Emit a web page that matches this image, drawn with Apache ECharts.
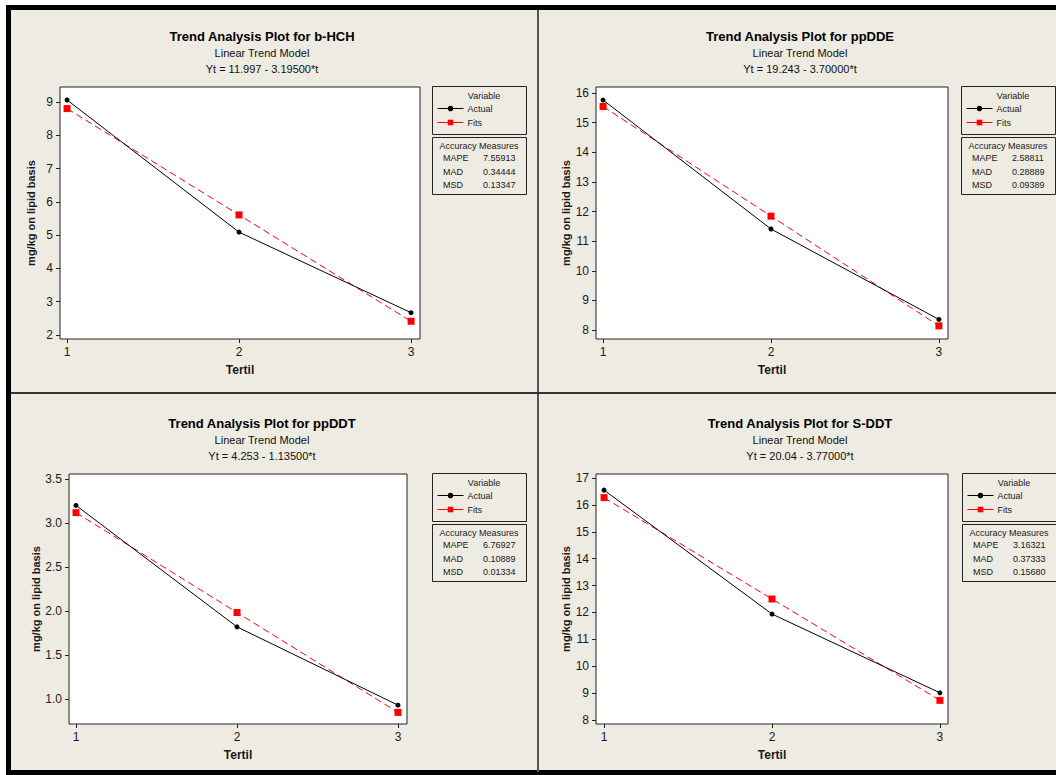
<!DOCTYPE html>
<html>
<head>
<meta charset="utf-8">
<script src="https://cdn.jsdelivr.net/npm/echarts@6/dist/echarts.min.js"></script>
<style>
html,body{margin:0;padding:0;background:#ffffff;}
#main{width:1056px;height:775px;}
</style>
</head>
<body>
<div id="main"></div>
<script>
// ---- data ----
const tertil = [1, 2, 3];
const bhchActual = [9.06, 5.09, 2.67];
const bhchFits = [8.802, 5.607, 2.412];
const ppddeActual = [15.76, 11.41, 8.36];
const ppddeFits = [15.543, 11.843, 8.143];
const ppddtActual = [3.20, 1.82, 0.93];
const ppddtFits = [3.118, 1.983, 0.848];
const sddtActual = [16.55, 11.94, 9.01];
const sddtFits = [16.27, 12.50, 8.73];

const bhchTicks = [2, 3, 4, 5, 6, 7, 8, 9];
const ppddeTicks = [8, 9, 10, 11, 12, 13, 14, 15, 16];
const ppddtTicks = [1.0, 1.5, 2.0, 2.5, 3.0, 3.5];
const sddtTicks = [8, 9, 10, 11, 12, 13, 14, 15, 16, 17];

const titles = ['Trend Analysis Plot for b-HCH', 'Trend Analysis Plot for ppDDE', 'Trend Analysis Plot for ppDDT', 'Trend Analysis Plot for S-DDT'];
const equations = ['Yt = 11.997 - 3.19500*t', 'Yt = 19.243 - 3.70000*t', 'Yt = 4.253 - 1.13500*t', 'Yt = 20.04 - 3.77000*t'];
const measureNames = ['MAPE', 'MAD', 'MSD'];
const bhchMeasures = ['7.55913', '0.34444', '0.13347'];
const ppddeMeasures = ['2.58811', '0.28889', '0.09389'];
const ppddtMeasures = ['6.76927', '0.10889', '0.01334'];
const sddtMeasures = ['3.16321', '0.37333', '0.15680'];

const panels = [
  { actual: bhchActual, fits: bhchFits, ticks: bhchTicks, meas: bhchMeasures, dec: 0 },
  { actual: ppddeActual, fits: ppddeFits, ticks: ppddeTicks, meas: ppddeMeasures, dec: 0 },
  { actual: ppddtActual, fits: ppddtFits, ticks: ppddtTicks, meas: ppddtMeasures, dec: 1 },
  { actual: sddtActual, fits: sddtFits, ticks: sddtTicks, meas: sddtMeasures, dec: 0 }
];

// ---- layout ----
const layout = [
  { gl: 60, gt: 87, gw: 360, gh: 252, xmin: 0.959, xmax: 3.052, ymin: 1.88, ymax: 9.45, tx: 262, ty: 29, lx: 432, ly: 86 },
  { gl: 596, gt: 87, gw: 352, gh: 252, xmin: 0.958, xmax: 3.054, ymin: 7.70, ymax: 16.20, tx: 800, ty: 29, lx: 961, ly: 86 },
  { gl: 69, gt: 474, gw: 338, gh: 250, xmin: 0.9565, xmax: 3.056, ymin: 0.716, ymax: 3.557, tx: 262, ty: 416, lx: 432, ly: 473 },
  { gl: 596, gt: 474, gw: 352, gh: 250, xmin: 0.952, xmax: 3.048, ymin: 7.85, ymax: 17.15, tx: 800, ty: 416, lx: 962, ly: 473 }
];

const FONT = '"Liberation Sans", Arial, sans-serif';
const BG = '#eeebe2';
const TXT = '#1a1a1a';

const grid = [], xAxis = [], yAxis = [], series = [], title = [], legend = [];
const graphic = [];

graphic.push({ type: 'rect', z: -10, shape: { x: 8.5, y: 7.5, width: 1100, height: 765 }, style: { fill: BG, stroke: '#000', lineWidth: 5 } });
graphic.push({ type: 'line', shape: { x1: 538, y1: 10, x2: 538, y2: 772 }, style: { stroke: '#555', lineWidth: 2 } });
graphic.push({ type: 'line', shape: { x1: 11, y1: 393, x2: 1056, y2: 393 }, style: { stroke: '#333', lineWidth: 2 } });

panels.forEach((p, i) => {
  const L = layout[i];
  grid.push({ left: L.gl, top: L.gt, width: L.gw, height: L.gh, show: true, backgroundColor: '#ffffff', borderColor: '#222', borderWidth: 1 });
  xAxis.push({
    type: 'value', gridIndex: i, min: L.xmin, max: L.xmax,
    name: 'Tertil', nameLocation: 'middle', nameGap: 25,
    nameTextStyle: { fontFamily: FONT, fontSize: 12, fontWeight: 'bold', color: TXT },
    axisLine: { show: false }, splitLine: { show: false },
    axisTick: { show: true, length: 4, customValues: tertil, lineStyle: { color: '#222' } },
    axisLabel: { customValues: tertil, margin: 7, fontFamily: FONT, fontSize: 12, color: TXT }
  });
  yAxis.push({
    type: 'value', gridIndex: i, min: L.ymin, max: L.ymax,
    name: 'mg/kg on lipid basis', nameLocation: 'middle', nameGap: 24,
    nameTextStyle: { fontFamily: FONT, fontSize: 11, fontWeight: 'bold', color: TXT },
    axisLine: { show: false }, splitLine: { show: false },
    axisTick: { show: true, length: 4, customValues: p.ticks, lineStyle: { color: '#222' } },
    axisLabel: { customValues: p.ticks, margin: 7, fontFamily: FONT, fontSize: 12, color: TXT,
      formatter: v => Number(v).toFixed(p.dec) }
  });
  series.push({
    name: 'Actual', type: 'line', xAxisIndex: i, yAxisIndex: i,
    data: tertil.map((t, k) => [t, p.actual[k]]),
    symbol: 'circle', symbolSize: 5,
    itemStyle: { color: '#000' }, lineStyle: { color: '#000', width: 1 }, z: 3, animation: false
  });
  series.push({
    name: 'Fits', type: 'line', xAxisIndex: i, yAxisIndex: i,
    data: tertil.map((t, k) => [t, p.fits[k]]),
    symbol: 'rect', symbolSize: 7,
    itemStyle: { color: '#ff0000' }, lineStyle: { color: '#ff0000', width: 1, type: [7, 4] }, z: 2, animation: false
  });
  title.push({
    text: titles[i], subtext: 'Linear Trend Model\n' + equations[i],
    left: L.tx, top: L.ty, textAlign: 'center', padding: 0, itemGap: 2,
    textStyle: { fontFamily: FONT, fontSize: 13, fontWeight: 'bold', color: '#000', lineHeight: 14 },
    subtextStyle: { fontFamily: FONT, fontSize: 11, color: '#111', lineHeight: 16, align: 'center' }
  });
  legend.push({
    data: ['Actual', 'Fits'], orient: 'vertical', left: L.lx + 5, top: L.ly + 18,
    itemWidth: 26, itemHeight: 7, itemGap: 5, padding: 0, selectedMode: false,
    lineStyle: { width: 1, type: 'solid' },
    textStyle: { fontFamily: FONT, fontSize: 9, color: TXT, padding: [0, 0, 0, -1] }
  });
  // legend box
  graphic.push({ type: 'rect', shape: { x: L.lx + 0.5, y: L.ly + 0.5, width: 94, height: 48 }, style: { fill: 'none', stroke: '#222', lineWidth: 1 } });
  graphic.push({ type: 'text', x: L.lx + 52, y: L.ly + 10, style: { text: 'Variable', font: '9px ' + FONT, fill: TXT, textAlign: 'center', textVerticalAlign: 'middle' } });
  // accuracy box
  graphic.push({ type: 'rect', shape: { x: L.lx + 0.5, y: L.ly + 51.5, width: 94, height: 57 }, style: { fill: 'none', stroke: '#222', lineWidth: 1 } });
  graphic.push({ type: 'text', x: L.lx + 47, y: L.ly + 60, style: { text: 'Accuracy Measures', font: '9px ' + FONT, fill: TXT, textAlign: 'center', textVerticalAlign: 'middle' } });
  measureNames.forEach((m, k) => {
    graphic.push({ type: 'text', x: L.lx + 11, y: L.ly + 72 + k * 13.5, style: { text: m, font: '9px ' + FONT, fill: TXT, textAlign: 'left', textVerticalAlign: 'middle' } });
    graphic.push({ type: 'text', x: L.lx + 51, y: L.ly + 72 + k * 13.5, style: { text: p.meas[k], font: '9px ' + FONT, fill: TXT, textAlign: 'left', textVerticalAlign: 'middle' } });
  });
});

const chart = echarts.init(document.getElementById('main'), null, { renderer: 'svg' });
chart.setOption({
  animation: false,
  backgroundColor: '#ffffff',
  title, grid, xAxis, yAxis, series, legend, graphic
});
</script>
</body>
</html>
